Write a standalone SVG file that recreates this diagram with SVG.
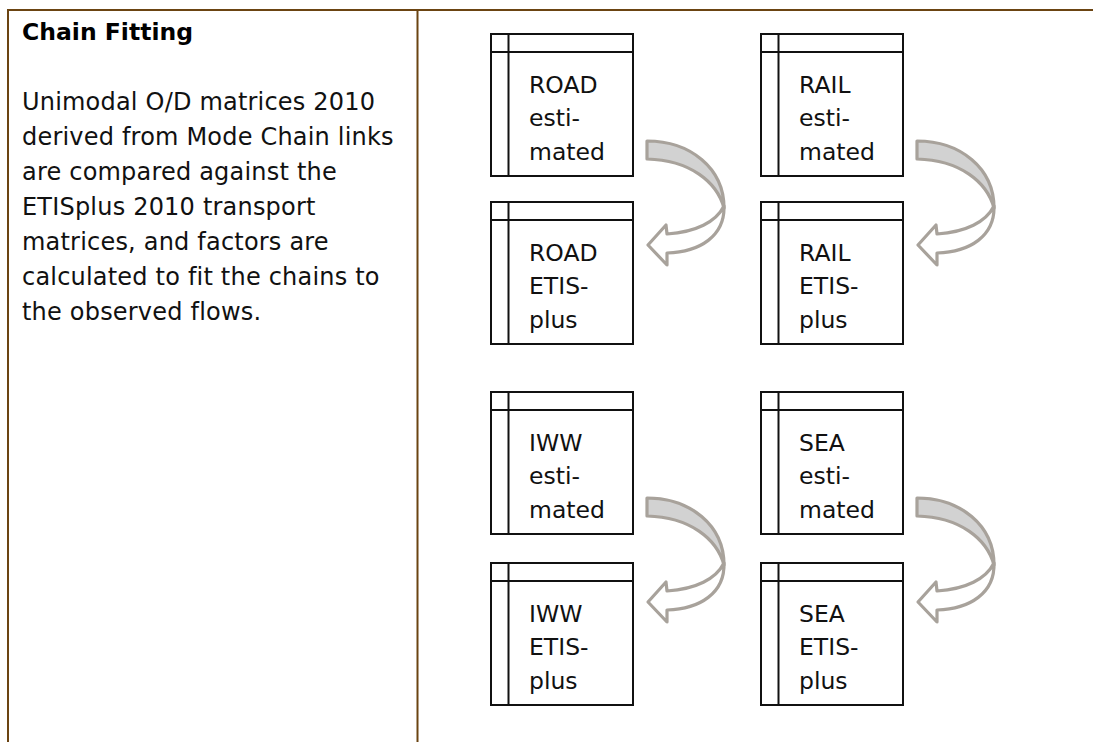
<svg xmlns="http://www.w3.org/2000/svg" width="1093" height="742" viewBox="0 0 1093 742">
<defs>
<style>
.frame{stroke:#6b4412;stroke-width:2;fill:none}
.box rect,.box line{stroke:#111;stroke-width:2;fill:#fff}
.box line{fill:none}
.t{font-family:"DejaVu Sans","Verdana",sans-serif;font-size:23.5px;fill:#111}
.p{font-family:"DejaVu Sans","Verdana",sans-serif;font-size:24px;letter-spacing:0.2px;fill:#111}
.title{font-family:"DejaVu Sans","Verdana",sans-serif;font-size:23.5px;font-weight:bold;fill:#000}
.back{fill:#d2d2d2;stroke:#a8a29b;stroke-width:3.2;stroke-linejoin:round}
.front{fill:#fff;stroke:#a8a29b;stroke-width:3.2;stroke-linejoin:round}
</style>
<g id="arrowShape">
<path class="back" d="M647,141 C690,141 724,168 724,208 C717,182 690,160 647,159 Z"/>
<path class="front" d="M724,206 C725,236 700,252 667,253 L667,265 L648,245 L666,225 L667,234 C696,232 716,222 724,206 Z"/>
</g>
</defs>
<g id="frame">
<line class="frame" x1="8" y1="10" x2="1093" y2="10"/>
<line class="frame" x1="8" y1="9" x2="8" y2="742"/>
<line class="frame" x1="417.5" y1="10" x2="417.5" y2="742"/>
</g>
<g id="description">
<text class="title" x="22" y="40">Chain Fitting</text>
<text class="p" x="22" y="110">Unimodal O/D matrices 2010</text>
<text class="p" x="22" y="145">derived from Mode Chain links</text>
<text class="p" x="22" y="180">are compared against the</text>
<text class="p" x="22" y="215">ETISplus 2010 transport</text>
<text class="p" x="22" y="250">matrices, and factors are</text>
<text class="p" x="22" y="285">calculated to fit the chains to</text>
<text class="p" x="22" y="320">the observed flows.</text>
</g>
<g id="road-est" class="box">
<rect x="491" y="34" width="142" height="142"/>
<line x1="508.5" y1="34" x2="508.5" y2="176"/>
<line x1="491" y1="52" x2="633" y2="52"/>
<text class="t" x="529" y="93">ROAD</text>
<text class="t" x="529" y="126">esti-</text>
<text class="t" x="529" y="160">mated</text>
</g>
<g id="road-etis" class="box">
<rect x="491" y="202" width="142" height="142"/>
<line x1="508.5" y1="202" x2="508.5" y2="344"/>
<line x1="491" y1="220" x2="633" y2="220"/>
<text class="t" x="529" y="261">ROAD</text>
<text class="t" x="529" y="294">ETIS-</text>
<text class="t" x="529" y="328">plus</text>
</g>
<g id="rail-est" class="box">
<rect x="761" y="34" width="142" height="142"/>
<line x1="778.5" y1="34" x2="778.5" y2="176"/>
<line x1="761" y1="52" x2="903" y2="52"/>
<text class="t" x="799" y="93">RAIL</text>
<text class="t" x="799" y="126">esti-</text>
<text class="t" x="799" y="160">mated</text>
</g>
<g id="rail-etis" class="box">
<rect x="761" y="202" width="142" height="142"/>
<line x1="778.5" y1="202" x2="778.5" y2="344"/>
<line x1="761" y1="220" x2="903" y2="220"/>
<text class="t" x="799" y="261">RAIL</text>
<text class="t" x="799" y="294">ETIS-</text>
<text class="t" x="799" y="328">plus</text>
</g>
<g id="iww-est" class="box">
<rect x="491" y="392" width="142" height="142"/>
<line x1="508.5" y1="392" x2="508.5" y2="534"/>
<line x1="491" y1="410" x2="633" y2="410"/>
<text class="t" x="529" y="451">IWW</text>
<text class="t" x="529" y="484">esti-</text>
<text class="t" x="529" y="518">mated</text>
</g>
<g id="iww-etis" class="box">
<rect x="491" y="563" width="142" height="142"/>
<line x1="508.5" y1="563" x2="508.5" y2="705"/>
<line x1="491" y1="581" x2="633" y2="581"/>
<text class="t" x="529" y="622">IWW</text>
<text class="t" x="529" y="655">ETIS-</text>
<text class="t" x="529" y="689">plus</text>
</g>
<g id="sea-est" class="box">
<rect x="761" y="392" width="142" height="142"/>
<line x1="778.5" y1="392" x2="778.5" y2="534"/>
<line x1="761" y1="410" x2="903" y2="410"/>
<text class="t" x="799" y="451">SEA</text>
<text class="t" x="799" y="484">esti-</text>
<text class="t" x="799" y="518">mated</text>
</g>
<g id="sea-etis" class="box">
<rect x="761" y="563" width="142" height="142"/>
<line x1="778.5" y1="563" x2="778.5" y2="705"/>
<line x1="761" y1="581" x2="903" y2="581"/>
<text class="t" x="799" y="622">SEA</text>
<text class="t" x="799" y="655">ETIS-</text>
<text class="t" x="799" y="689">plus</text>
</g>
<g id="connectors">
<use href="#arrowShape"/>
<use href="#arrowShape" transform="translate(270,0)"/>
<use href="#arrowShape" transform="translate(0,357)"/>
<use href="#arrowShape" transform="translate(270,357)"/>
</g>
</svg>
